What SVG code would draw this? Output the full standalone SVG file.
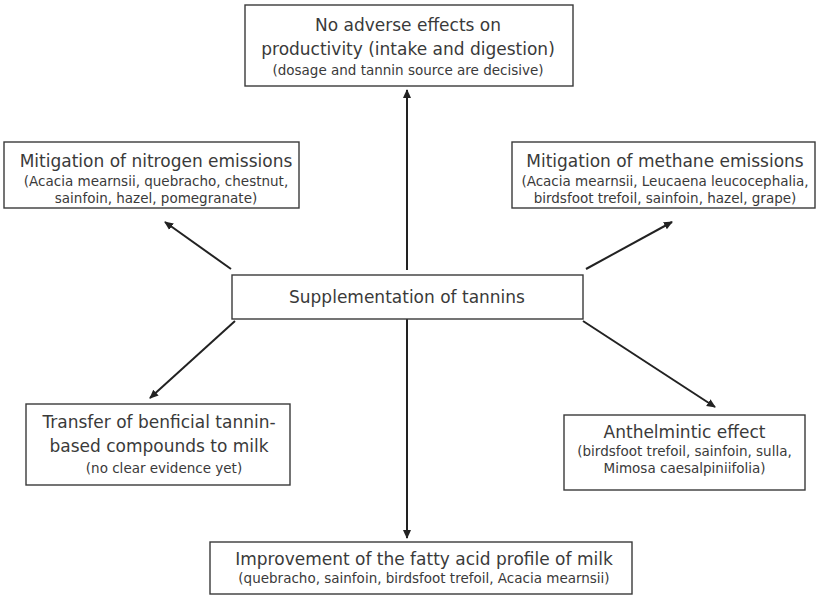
<svg xmlns="http://www.w3.org/2000/svg" width="817" height="596" viewBox="0 0 817 596">
<defs>
<style>
.box{fill:#fff;stroke:#3a3a3a;stroke-width:1.4}
.t{font-family:"DejaVu Sans","Noto Sans",sans-serif;font-size:17px;fill:#3a3a3a;text-anchor:middle}
.s{font-family:"DejaVu Sans","Noto Sans",sans-serif;font-size:13.5px;fill:#3a3a3a;text-anchor:middle}
.c{stroke:#222;stroke-width:2;fill:none;marker-end:url(#ah)}
</style>
<marker id="ah" markerWidth="10" markerHeight="10" refX="8" refY="5" orient="auto" markerUnits="userSpaceOnUse">
<path d="M0,1 L9,5 L0,9 Z" fill="#222"/>
</marker>
</defs>
<rect width="817" height="596" fill="#fff"/>
<g id="connectors">
<line class="c" x1="407" y1="270" x2="407" y2="90"/>
<line class="c" x1="231" y1="269" x2="165" y2="222"/>
<line class="c" x1="586" y1="269" x2="672" y2="222"/>
<line class="c" x1="235" y1="321" x2="150" y2="398"/>
<line class="c" x1="583" y1="321" x2="715" y2="407"/>
<line class="c" x1="407" y1="319" x2="407" y2="538"/>
</g>
<g id="n-top">
<rect class="box" x="245" y="5" width="328" height="81"/>
<text class="t" x="408" y="31">No adverse effects on</text>
<text class="t" x="408" y="55">productivity (intake and digestion)</text>
<text class="s" x="408" y="75">(dosage and tannin source are decisive)</text>
</g>
<g id="n-nitrogen">
<rect class="box" x="4" y="142" width="295" height="66"/>
<text class="t" x="156" y="167">Mitigation of nitrogen emissions</text>
<text class="s" x="156" y="186">(Acacia mearnsii, quebracho, chestnut,</text>
<text class="s" x="156" y="203">sainfoin, hazel, pomegranate)</text>
</g>
<g id="n-methane">
<rect class="box" x="512" y="142" width="303" height="66"/>
<text class="t" x="665" y="167">Mitigation of methane emissions</text>
<text class="s" x="665" y="186">(Acacia mearnsii, Leucaena leucocephalia,</text>
<text class="s" x="665" y="203">birdsfoot trefoil, sainfoin, hazel, grape)</text>
</g>
<g id="n-center">
<rect class="box" x="232" y="275" width="351" height="44"/>
<text class="t" x="407" y="303">Supplementation of tannins</text>
</g>
<g id="n-transfer">
<rect class="box" x="26" y="404" width="264" height="81"/>
<text class="t" x="159" y="428">Transfer of benficial tannin-</text>
<text class="t" x="159" y="452">based compounds to milk</text>
<text class="s" x="164" y="473">(no clear evidence yet)</text>
</g>
<g id="n-anthelmintic">
<rect class="box" x="564" y="415" width="241" height="75"/>
<text class="t" x="684.5" y="438">Anthelmintic effect</text>
<text class="s" x="684.5" y="456">(birdsfoot trefoil, sainfoin, sulla,</text>
<text class="s" x="684.5" y="473">Mimosa caesalpiniifolia)</text>
</g>
<g id="n-bottom">
<rect class="box" x="210" y="542" width="422" height="52"/>
<text class="t" x="424" y="565">Improvement of the fatty acid profile of milk</text>
<text class="s" x="424" y="583">(quebracho, sainfoin, birdsfoot trefoil, Acacia mearnsii)</text>
</g>
</svg>
